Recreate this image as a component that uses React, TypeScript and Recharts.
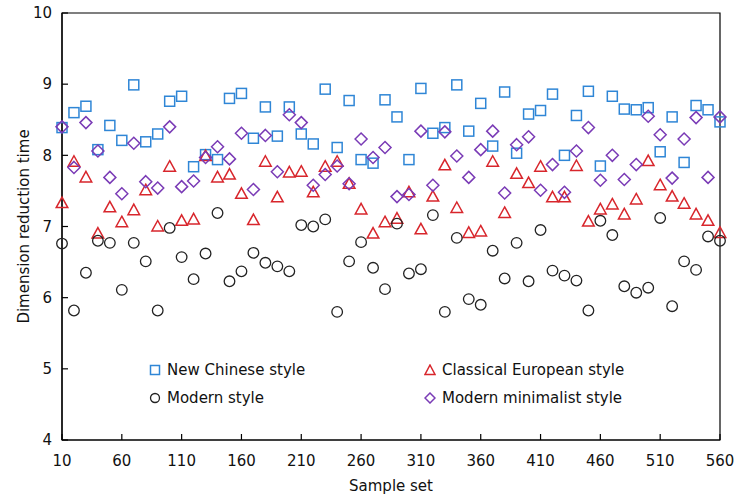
import React from "react";
import { ScatterChart, Scatter, XAxis, YAxis, ReferenceArea } from "recharts";

const samples = [10, 20, 30, 40, 50, 60, 70, 80, 90, 100, 110, 120, 130, 140, 150, 160, 170, 180, 190, 200, 210, 220, 230, 240, 250, 260, 270, 280, 290, 300, 310, 320, 330, 340, 350, 360, 370, 380, 390, 400, 410, 420, 430, 440, 450, 460, 470, 480, 490, 500, 510, 520, 530, 540, 550, 560];

const newChinese = [8.39, 8.6, 8.69, 8.08, 8.42, 8.21, 8.99, 8.19, 8.3, 8.76, 8.83, 7.84, 8.01, 7.94, 8.8, 8.87, 8.24, 8.68, 8.27, 8.68, 8.3, 8.16, 8.93, 8.11, 8.77, 7.94, 7.89, 8.78, 8.54, 7.94, 8.94, 8.31, 8.39, 8.99, 8.34, 8.73, 8.13, 8.89, 8.03, 8.58, 8.63, 8.86, 8.0, 8.56, 8.9, 7.85, 8.83, 8.65, 8.64, 8.67, 8.05, 8.54, 7.9, 8.7, 8.64, 8.47];

const classicalEuropean = [7.33, 7.91, 7.69, 6.9, 7.27, 7.06, 7.23, 7.51, 7.0, 7.84, 7.08, 7.1, 7.99, 7.69, 7.73, 7.46, 7.09, 7.91, 7.41, 7.76, 7.77, 7.48, 7.84, 7.91, 7.6, 7.24, 6.9, 7.06, 7.11, 7.48, 6.96, 7.42, 7.86, 7.26, 6.91, 6.93, 7.91, 7.19, 7.74, 7.61, 7.84, 7.41, 7.41, 7.85, 7.07, 7.24, 7.31, 7.17, 7.38, 7.92, 7.58, 7.42, 7.32, 7.17, 7.08, 6.91];

const modern = [6.76, 5.82, 6.35, 6.8, 6.77, 6.11, 6.77, 6.51, 5.82, 6.98, 6.57, 6.26, 6.62, 7.19, 6.23, 6.37, 6.63, 6.49, 6.44, 6.37, 7.02, 7.0, 7.1, 5.8, 6.51, 6.78, 6.42, 6.12, 7.04, 6.34, 6.4, 7.16, 5.8, 6.84, 5.98, 5.9, 6.66, 6.27, 6.77, 6.23, 6.95, 6.38, 6.31, 6.24, 5.82, 7.08, 6.88, 6.16, 6.07, 6.14, 7.12, 5.88, 6.51, 6.39, 6.86, 6.8];

const modernMinimalist = [8.4, 7.83, 8.46, 8.06, 7.69, 7.46, 8.17, 7.63, 7.54, 8.4, 7.56, 7.64, 7.97, 8.12, 7.95, 8.31, 7.52, 8.28, 7.77, 8.57, 8.46, 7.58, 7.73, 7.85, 7.6, 8.23, 7.97, 8.11, 7.42, 7.45, 8.34, 7.58, 8.33, 7.99, 7.69, 8.08, 8.34, 7.47, 8.15, 8.26, 7.51, 7.87, 7.48, 8.06, 8.39, 7.65, 8.0, 7.66, 7.87, 8.55, 8.29, 7.68, 8.23, 8.53, 7.69, 8.54];

const xTicks = [10, 60, 110, 160, 210, 260, 310, 360, 410, 460, 510, 560];
const yTicks = [4, 5, 6, 7, 8, 9, 10];

const BLUE = "#2f86d6";
const RED = "#d8262c";
const BLACK = "#222222";
const PURPLE = "#7a3bb6";
const FONT = "'DejaVu Sans', Verdana, sans-serif";

const toPoints = (vals: number[]) => vals.map((v, i) => ({ x: samples[i], y: v }));

const SquareShape = (p: any) => (
  <rect x={p.cx - 5} y={p.cy - 5} width={10} height={10} fill="none" stroke={BLUE} strokeWidth={1.5} />
);
const TriangleShape = (p: any) => (
  <polygon
    points={`${p.cx},${p.cy - 6} ${p.cx + 5.8},${p.cy + 4.5} ${p.cx - 5.8},${p.cy + 4.5}`}
    fill="none"
    stroke={RED}
    strokeWidth={1.5}
  />
);
const CircleShape = (p: any) => (
  <circle cx={p.cx} cy={p.cy} r={5.3} fill="none" stroke={BLACK} strokeWidth={1.3} />
);
const DiamondShape = (p: any) => (
  <polygon
    points={`${p.cx},${p.cy - 6} ${p.cx + 6},${p.cy} ${p.cx},${p.cy + 6} ${p.cx - 6},${p.cy}`}
    fill="none"
    stroke={PURPLE}
    strokeWidth={1.5}
  />
);

const LegendIcon = ({ kind }: { kind: string }) => (
  <svg width={12} height={12} style={{ display: "block" }}>
    {kind === "square" && <rect x={1.5} y={1.5} width={9} height={9} fill="none" stroke={BLUE} strokeWidth={1.5} />}
    {kind === "triangle" && <polygon points="6,1 11,10.5 1,10.5" fill="none" stroke={RED} strokeWidth={1.5} />}
    {kind === "circle" && <circle cx={6} cy={6} r={4.5} fill="none" stroke={BLACK} strokeWidth={1.3} />}
    {kind === "diamond" && <polygon points="6,1 11,6 6,11 1,6" fill="none" stroke={PURPLE} strokeWidth={1.5} />}
  </svg>
);

const legendItems = [
  { name: "New Chinese style", kind: "square", left: 149, top: 360 },
  { name: "Classical European style", kind: "triangle", left: 424, top: 360 },
  { name: "Modern style", kind: "circle", left: 149, top: 388 },
  { name: "Modern minimalist style", kind: "diamond", left: 424, top: 388 },
];

export default function App() {
  return (
    <div style={{ position: "absolute", left: 0, top: 0, width: 734, height: 495, background: "#fff", fontFamily: FONT }}>
      <ScatterChart width={734} height={495} margin={{ top: 13, right: 14, bottom: 0, left: 0 }}>
        <XAxis
          type="number"
          dataKey="x"
          domain={[10, 560]}
          ticks={xTicks}
          interval={0}
          height={55}
          tickSize={-6}
          tickMargin={21}
          axisLine={{ stroke: "#000", strokeWidth: 1.2 }}
          tickLine={{ stroke: "#000", strokeWidth: 1.2 }}
          tick={{ fill: "#111", fontSize: 15, fontFamily: FONT }}
          label={{ value: "Sample set", position: "insideBottom", offset: 4, fill: "#111", fontSize: 15, fontFamily: FONT }}
        />
        <YAxis
          type="number"
          dataKey="y"
          domain={[4, 10]}
          ticks={yTicks}
          interval={0}
          width={62}
          tickSize={-6}
          tickMargin={16}
          axisLine={{ stroke: "#000", strokeWidth: 1.2 }}
          tickLine={{ stroke: "#000", strokeWidth: 1.2 }}
          tick={{ fill: "#111", fontSize: 15, fontFamily: FONT }}
          label={{ value: "Dimension reduction time", angle: -90, position: "insideLeft", offset: 24, style: { textAnchor: "middle" }, fill: "#111", fontSize: 15, fontFamily: FONT }}
        />
        <ReferenceArea x1={10} x2={560} y1={4} y2={10} fill="none" fillOpacity={0} stroke="#000" strokeWidth={1.2} ifOverflow="visible" />
        <Scatter name="New Chinese style" data={toPoints(newChinese)} shape={SquareShape} isAnimationActive={false} />
        <Scatter name="Classical European style" data={toPoints(classicalEuropean)} shape={TriangleShape} isAnimationActive={false} />
        <Scatter name="Modern style" data={toPoints(modern)} shape={CircleShape} isAnimationActive={false} />
        <Scatter name="Modern minimalist style" data={toPoints(modernMinimalist)} shape={DiamondShape} isAnimationActive={false} />
      </ScatterChart>
      {legendItems.map((it) => (
        <div
          key={it.name}
          style={{ position: "absolute", left: it.left, top: it.top, display: "flex", alignItems: "center", gap: 6, fontSize: 15, color: "#111", fontFamily: FONT, whiteSpace: "nowrap", lineHeight: "20px" }}
        >
          <LegendIcon kind={it.kind} />
          <span>{it.name}</span>
        </div>
      ))}
    </div>
  );
}
